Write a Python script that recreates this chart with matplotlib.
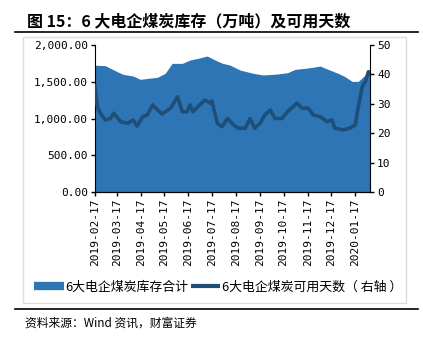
import matplotlib.pyplot as plt
import matplotlib.dates as mdates
from matplotlib.lines import Line2D
import pandas as pd

# 6大电企煤炭库存合计（万吨）
stock_dates = ['2019-02-17', '2019-03-02', '2019-03-15', '2019-03-25', '2019-04-07', '2019-04-16',
               '2019-04-26', '2019-05-08', '2019-05-18', '2019-05-27', '2019-06-09', '2019-06-19',
               '2019-06-29', '2019-07-11', '2019-07-21', '2019-07-31', '2019-08-09', '2019-08-22',
               '2019-09-08', '2019-09-21', '2019-10-09', '2019-10-22', '2019-11-01', '2019-11-14',
               '2019-11-23', '2019-12-03', '2019-12-13', '2019-12-26', '2020-01-04', '2020-01-13',
               '2020-01-21', '2020-01-30', '2020-02-03', '2020-02-05']
stock = [1725, 1719, 1650, 1601, 1578, 1533,
         1546, 1560, 1614, 1750, 1750, 1796,
         1818, 1850, 1796, 1750, 1728, 1660,
         1615, 1592, 1605, 1623, 1669, 1683,
         1696, 1714, 1669, 1615, 1569, 1505,
         1505, 1592, 1660, 1650]

# 6大电企煤炭可用天数（右轴）
days_dates = ['2019-02-17', '2019-02-20', '2019-02-24', '2019-03-02', '2019-03-09', '2019-03-13',
              '2019-03-22', '2019-03-31', '2019-04-07', '2019-04-12', '2019-04-19', '2019-04-25',
              '2019-05-02', '2019-05-06', '2019-05-14', '2019-05-25', '2019-06-03', '2019-06-09',
              '2019-06-15', '2019-06-19', '2019-06-23', '2019-06-29', '2019-07-08', '2019-07-15',
              '2019-07-17', '2019-07-24', '2019-07-30', '2019-08-06', '2019-08-14', '2019-08-20',
              '2019-08-29', '2019-09-04', '2019-09-10', '2019-09-17', '2019-09-23', '2019-09-30',
              '2019-10-06', '2019-10-15', '2019-10-22', '2019-11-03', '2019-11-10', '2019-11-18',
              '2019-11-24', '2019-12-03', '2019-12-12', '2019-12-18', '2019-12-22', '2020-01-01',
              '2020-01-10', '2020-01-17', '2020-01-21', '2020-01-26', '2020-01-30', '2020-02-03',
              '2020-02-05']
days = [36.0, 29.0, 26.8, 24.5, 25.0, 26.8,
        23.9, 23.4, 24.5, 22.4, 25.6, 26.2,
        29.6, 28.5, 26.5, 28.5, 32.4, 27.3,
        27.3, 29.6, 27.3, 29.0, 31.3, 30.2,
        31.0, 23.4, 22.2, 25.0, 22.8, 21.7,
        21.7, 25.0, 21.7, 23.4, 26.2, 27.9,
        25.0, 25.0, 27.3, 30.2, 28.5, 28.5,
        26.2, 25.6, 23.9, 24.5, 21.7, 21.1,
        21.7, 22.8, 29.0, 35.8, 37.5, 40.9,
        40.4]

left_ticks = [0, 500, 1000, 1500, 2000]
right_ticks = [0, 10, 20, 30, 40, 50]
tick_dates = ['2019-02-17', '2019-03-17', '2019-04-17', '2019-05-17', '2019-06-17', '2019-07-17',
              '2019-08-17', '2019-09-17', '2019-10-17', '2019-11-17', '2019-12-17', '2020-01-17']

AREA_C = '#2E75B6'
LINE_C = '#1F4E79'
cjk = ['Noto Sans CJK SC', 'DejaVu Sans']
mono = 'DejaVu Sans Mono'

fig = plt.figure(figsize=(4.23, 3.37), dpi=100)

# рамка и линии оформления
fig.patches.append(plt.Rectangle((23 / 423, 1 - 303 / 337), 383 / 423, 266 / 337,
                                 transform=fig.transFigure, fill=False, ec='#DDDDDD', lw=1))
fig.add_artist(Line2D([15 / 423, 418 / 423], [1 - 32 / 337] * 2, color='black', lw=1.2))
fig.add_artist(Line2D([15 / 423, 418 / 423], [1 - 309 / 337] * 2, color='black', lw=1.2))

fig.text(27 / 423, 1 - 21 / 337, '图 15：6 大电企煤炭库存（万吨）及可用天数',
         family=cjk, fontsize=11.5, fontweight='bold', va='center', ha='left')
fig.text(25 / 423, 1 - 323 / 337, '资料来源：Wind 资讯，财富证券',
         family=cjk, fontsize=8.5, style='italic', va='center', ha='left')

ax = fig.add_axes([95 / 423, 1 - 192 / 337, 275 / 423, 147 / 337])
x1 = pd.to_datetime(stock_dates)
ax.fill_between(x1, stock, 0, color=AREA_C, lw=0)
ax.set_ylim(0, 2000)
ax.set_xlim(pd.Timestamp('2019-02-17'), pd.Timestamp('2020-02-05'))
ax.set_yticks(left_ticks)
ax.set_yticklabels([f'{v:,.2f}' for v in left_ticks], family=mono, fontsize=8)
ax.set_xticks(pd.to_datetime(tick_dates))
ax.xaxis.set_major_formatter(mdates.DateFormatter('%Y-%m-%d'))
for lb in ax.get_xticklabels():
    lb.set_rotation(90)
    lb.set_family(mono)
    lb.set_fontsize(8)
ax.tick_params(direction='out', length=3, width=1, pad=2)
ax.spines['top'].set_visible(False)
ax.spines['right'].set_visible(False)

ax2 = ax.twinx()
ax2.plot(pd.to_datetime(days_dates), days, color=LINE_C, lw=2.6)
ax2.set_ylim(0, 50)
ax2.set_yticks(right_ticks)
ax2.set_yticklabels([str(v) for v in right_ticks], family=mono, fontsize=8)
ax2.tick_params(direction='out', length=3, width=1, pad=2)
ax2.spines['top'].set_visible(False)
ax2.spines['left'].set_visible(False)

handles = [Line2D([], [], color=AREA_C, lw=6, solid_capstyle='butt'),
           Line2D([], [], color=LINE_C, lw=3, solid_capstyle='butt')]
fig.legend(handles, ['6大电企煤炭库存合计', '6大电企煤炭可用天数（ 右轴 ）'],
           loc='center', bbox_to_anchor=(0.515, 1 - 287 / 337), ncol=2, frameon=False,
           prop={'family': cjk, 'size': 9.3}, handlelength=2.3, handletextpad=0.1,
           columnspacing=0.2)

fig.savefig('out.png', dpi=100)
